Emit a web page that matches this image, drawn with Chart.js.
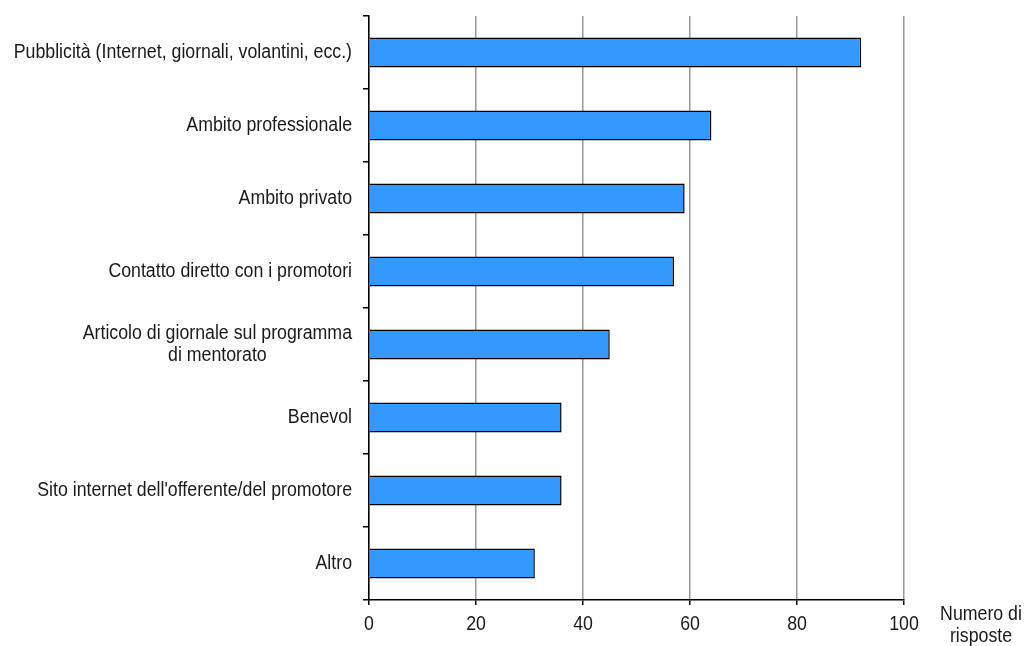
<!DOCTYPE html>
<html>
<head>
<meta charset="utf-8">
<script src="https://cdn.jsdelivr.net/npm/chart.js@4.4.1/dist/chart.umd.min.js"></script>
<style>
    body {margin: 0; background: #fff;}
    #wrap {width: 1029px; height: 646px; position: relative;}
</style>
</head>
<body>
<div id="wrap"><canvas id="chart"></canvas></div>
<script>
const categories = [
    ["Pubblicità (Internet, giornali, volantini, ecc.)"],
    ["Ambito professionale"],
    ["Ambito privato"],
    ["Contatto diretto con i promotori"],
    ["Articolo di giornale sul programma", "di mentorato"],
    ["Benevol"],
    ["Sito internet dell'offerente/del promotore"],
    ["Altro"]
];
const risposte = [92, 64, 59, 57, 45, 36, 36, 31];
const xTickValues = [0, 20, 40, 60, 80, 100];
const xTitle = ["Numero di", "risposte"];

const FONT = "'Liberation Sans', Arial, sans-serif";
const TEXT = "#1a1a1a";
const SQUEEZE = 0.91;

// text in the original is a bit narrow, so squeeze it horizontally
function narrowText(ctx, text, x, y) {
    ctx.save();
    ctx.translate(x, y);
    ctx.scale(SQUEEZE, 1);
    ctx.fillText(text, 0, 0);
    ctx.restore();
}

const labelPlugin = {
    id: "labels",
    afterDraw(chart) {
        const ctx = chart.ctx;
        const ys = chart.scales.y;
        const xs = chart.scales.x;
        const right = chart.chartArea.left - 17;
        const lh = 22;
        ctx.save();
        ctx.fillStyle = TEXT;
        ctx.textBaseline = "middle";
        ctx.textAlign = "center";

        // category labels, centred on their widest line
        ctx.font = "19.5px " + FONT;
        categories.forEach((lines, i) => {
            const y = ys.getPixelForTick(i);
            let maxW = 0;
            lines.forEach(l => { maxW = Math.max(maxW, ctx.measureText(l).width * SQUEEZE); });
            const cx = right - maxW / 2;
            const y0 = y - (lines.length - 1) * lh / 2;
            lines.forEach((l, j) => narrowText(ctx, l, cx, y0 + j * lh));
        });

        // value tick labels
        xTickValues.forEach(v => {
            narrowText(ctx, String(v), xs.getPixelForValue(v), xs.top + 25);
        });

        // axis title at the right end of the x axis
        narrowText(ctx, xTitle[0], xs.right + 77, xs.top + 15);
        narrowText(ctx, xTitle[1], xs.right + 77, xs.top + 37);
        ctx.restore();
    }
};

new Chart(document.getElementById("chart"), {
    type: "bar",
    data: {
        labels: categories,
        datasets: [{
                data: risposte,
                backgroundColor: "#3399FF",
                borderColor: "#000000",
                borderWidth: 1.5,
                barPercentage: 0.41,
                categoryPercentage: 1
            }]
    },
    options: {
        indexAxis: "y",
        responsive: true,
        maintainAspectRatio: false,
        animation: false,
        layout: {padding: {top: 16, right: 125, left: 0, bottom: 0}},
        plugins: {
            legend: {display: false},
            tooltip: {enabled: false}
        },
        scales: {
            x: {
                min: 0,
                max: 100,
                afterBuildTicks: scale => {
                    scale.ticks = xTickValues.map(v => ({value: v}));
                },
                afterFit: scale => {
                    scale.height = 46;
                },
                grid: {
                    color: "#999999",
                    lineWidth: 1.5,
                    tickColor: "#000000",
                    tickLength: 5,
                    drawTicks: true
                },
                border: {color: "#000000", width: 1.5},
                ticks: {
                    color: "rgba(0,0,0,0)",
                    font: {family: FONT, size: 16},
                    padding: 4,
                    maxRotation: 0
                }
            },
            y: {
                offset: true,
                afterFit: scale => {
                    scale.width = 369;
                },
                grid: {
                    offset: true,
                    drawOnChartArea: false,
                    drawTicks: true,
                    tickLength: 6,
                    tickColor: "#000000",
                    lineWidth: 1.5
                },
                border: {color: "#000000", width: 1.5},
                ticks: {
                    color: "rgba(0,0,0,0)",
                    font: {family: FONT, size: 15}
                }
            }
        }
    },
    plugins: [labelPlugin]
});
</script>
</body>
</html>
